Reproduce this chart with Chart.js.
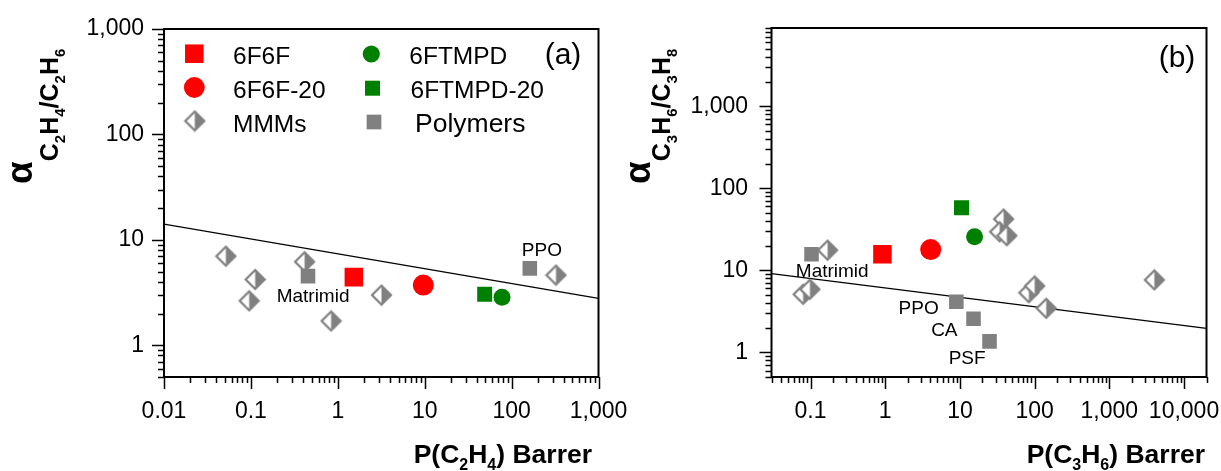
<!DOCTYPE html>
<html><head><meta charset="utf-8">
<script src="https://cdn.jsdelivr.net/npm/chart.js@4/dist/chart.umd.min.js"></script>
<style>
html,body{margin:0;padding:0;background:#fff;width:1221px;height:471px;overflow:hidden}
#wa{position:absolute;left:0;top:0;width:640px;height:471px}
#wb{position:absolute;left:605px;top:0;width:616px;height:471px}
</style></head><body>
<div id="wa"><canvas id="ca"></canvas></div>
<div id="wb"><canvas id="cb"></canvas></div>
<script>
// ---------- DATA: panel (a) C2H4/C2H6 ----------
const a6F6F_x = [1.53],  a6F6F_y = [4.43];
const a6F6F20_x = [9.63], a6F6F20_y = [3.72];
const a6FTMPD_x = [77.6], a6FTMPD_y = [2.86];
const a6FTMPD20_x = [49], a6FTMPD20_y = [3.05];
const aMMMs_x = [0.0515, 0.112, 0.0955, 0.415, 0.837, 3.18, 324];
const aMMMs_y = [7.0, 4.21, 2.64, 6.19, 1.70, 2.99, 4.63];
const aPoly_x = [0.454, 162];
const aPoly_y = [4.53, 5.36];
const aPoly_names = ['Matrimid', 'PPO'];
const aBound_x = [0.01, 1000], aBound_y = [14.1, 2.78];
const aXTickVals = [0.01, 0.1, 1, 10, 100, 1000];
const aXTickText = ['0.01', '0.1', '1', '10', '100', '1,000'];
const aYTickVals = [1, 10, 100, 1000];
const aYTickText = ['1', '10', '100', '1,000'];

// ---------- DATA: panel (b) C3H6/C3H8 ----------
const b6F6F_x = [0.917], b6F6F_y = [15.7];
const b6F6F20_x = [4.06], b6F6F20_y = [17.9];
const b6FTMPD_x = [15.7], b6FTMPD_y = [25.6];
const b6FTMPD20_x = [10.5], b6FTMPD20_y = [58];
const bMMMs_x = [0.169, 0.0796, 0.098, 38.4, 34, 42.5, 83.6, 100, 143, 4010];
const bMMMs_y = [17.6, 5.1, 5.87, 42.2, 29.5, 26.4, 5.33, 6.44, 3.44, 7.63];
const bPoly_x = [0.103, 8.95, 15.2, 24.9];
const bPoly_y = [15.7, 4.14, 2.56, 1.36];
const bPoly_names = ['Matrimid', 'PPO', 'CA', 'PSF'];
const bBound_x = [0.03, 20000], bBound_y = [9.1, 1.96];
const bXTickVals = [0.1, 1, 10, 100, 1000, 10000];
const bXTickText = ['0.1', '1', '10', '100', '1,000', '10,000'];
const bYTickVals = [1, 10, 100, 1000];
const bYTickText = ['1', '10', '100', '1,000'];

// ---------- helpers ----------
const FONTFAM = "'Liberation Sans', Arial, Helvetica, sans-serif";
const RED = '#ff0000', GREEN = '#008000', GRAY = '#808080';

function pts(xs, ys) { return xs.map((v, i) => ({ x: v, y: ys[i] })); }

function makeDiamond(size, color) {
  const c = document.createElement('canvas');
  const s = Math.ceil(size + 4);
  c.width = s; c.height = s;
  const g = c.getContext('2d');
  const m = s / 2, h = size / 2;
  const path = () => { g.beginPath(); g.moveTo(m, m - h); g.lineTo(m + h, m); g.lineTo(m, m + h); g.lineTo(m - h, m); g.closePath(); };
  path(); g.fillStyle = '#fff'; g.fill();
  g.beginPath(); g.moveTo(m, m - h); g.lineTo(m + h, m); g.lineTo(m, m + h); g.closePath();
  g.fillStyle = color; g.fill();
  path(); g.lineWidth = 2.2; g.strokeStyle = color; g.lineJoin = 'miter'; g.stroke();
  return c;
}
const DIAMOND = makeDiamond(19, GRAY);

function minorTicks(min, max, majors) {
  const out = [];
  for (let e = -3; e <= 5; e++) {
    for (let k = 1; k <= 9; k++) {
      const v = +(k * Math.pow(10, e)).toPrecision(6);
      if (v >= min * 0.9999 && v <= max * 1.0001 && majors.indexOf(v) < 0) out.push(v);
    }
  }
  return out;
}

function makeScale(min, max, vals, texts, pad, fit, isX) {
  return {
    type: 'logarithmic', min, max, position: isX ? 'bottom' : 'left',
    grid: { display: false, drawTicks: false }, border: { display: false },
    ticks: {
      autoSkip: false, maxRotation: 0, minRotation: 0, padding: pad, color: '#000',
      font: { family: FONTFAM, size: 23 },
      callback: (v) => { const i = vals.indexOf(v); return i < 0 ? '' : texts[i]; }
    },
    afterBuildTicks: (s) => { s.ticks = vals.map(v => ({ value: v })); },
    afterFit: (s) => {
      if (isX) s.height = fit; else s.width = fit;
      s.paddingTop = 0; s.paddingBottom = 0; s.paddingLeft = 0; s.paddingRight = 0;
    }
  };
}

function drawRich(ctx, segs, x, y, align) {
  let w = 0;
  segs.forEach(s => { ctx.font = 'bold ' + s.s + 'px ' + FONTFAM; s.w = ctx.measureText(s.t).width; w += s.w; });
  let cx = align === 'right' ? x - w : x;
  ctx.textAlign = 'left'; ctx.textBaseline = 'alphabetic';
  segs.forEach(s => { ctx.font = 'bold ' + s.s + 'px ' + FONTFAM; ctx.fillText(s.t, cx, y + s.dy); cx += s.w; });
}

function drawMarker(ctx, kind, color, r, x, y) {
  ctx.fillStyle = color;
  if (kind === 'rect') { const h = r * Math.SQRT1_2; ctx.fillRect(x - h, y - h, 2 * h, 2 * h); }
  else if (kind === 'circle') { ctx.beginPath(); ctx.arc(x, y, r, 0, Math.PI * 2); ctx.fill(); }
  else { ctx.drawImage(DIAMOND, x - DIAMOND.width / 2, y - DIAMOND.height / 2); }
}

const decoPlugin = {
  id: 'deco',
  afterDraw(chart, args, o) {
    const ctx = chart.ctx, a = chart.chartArea, xs = chart.scales.x, ys = chart.scales.y;
    ctx.save();
    ctx.strokeStyle = '#000';
    // tick marks
    ctx.lineWidth = 1.5;
    ctx.beginPath();
    o.xMajor.forEach(v => { const p = Math.round(xs.getPixelForValue(v)) + 0.5; ctx.moveTo(p, a.bottom); ctx.lineTo(p, a.bottom + 12); });
    o.xMinor.forEach(v => { const p = Math.round(xs.getPixelForValue(v)) + 0.5; ctx.moveTo(p, a.bottom); ctx.lineTo(p, a.bottom + 6); });
    o.yMajor.forEach(v => { const p = Math.round(ys.getPixelForValue(v)) + 0.5; ctx.moveTo(a.left, p); ctx.lineTo(a.left - 12, p); });
    o.yMinor.forEach(v => { const p = Math.round(ys.getPixelForValue(v)) + 0.5; ctx.moveTo(a.left, p); ctx.lineTo(a.left - 6, p); });
    ctx.stroke();
    // frame
    ctx.lineWidth = 2;
    ctx.strokeRect(a.left, a.top, a.right - a.left, a.bottom - a.top);
    // point annotations
    ctx.fillStyle = '#000'; ctx.textAlign = 'center'; ctx.textBaseline = 'alphabetic';
    ctx.font = '19px ' + FONTFAM;
    o.notes.forEach(n => ctx.fillText(n.t, xs.getPixelForValue(n.x), ys.getPixelForValue(n.y)));
    // panel tag
    ctx.font = '30px ' + FONTFAM;
    ctx.fillText(o.tag, a.right + o.tagDx, a.top + o.tagDy);
    // axis titles
    ctx.fillStyle = '#000';
    drawRich(ctx, o.xTitle, o.xTitleRight, 462.5, 'right');
    ctx.save();
    ctx.translate(o.yTitleX, o.yTitleY);
    ctx.rotate(-Math.PI / 2);
    drawRich(ctx, o.yTitle, 0, 0, 'left');
    ctx.restore();
    // legend
    if (o.legend) {
      o.legend.forEach(L => {
        drawMarker(ctx, L.kind, L.color, L.r, L.mx, L.my);
        ctx.fillStyle = '#000'; ctx.textAlign = 'left'; ctx.textBaseline = 'alphabetic';
        ctx.font = L.fs + 'px ' + FONTFAM;
        ctx.fillText(L.t, L.tx, L.ty);
      });
    }
    ctx.restore();
  }
};

function buildDatasets(d) {
  return [
    { label: '6F6F', data: pts(d.f6x, d.f6y), pointStyle: 'rect', pointRadius: 13.1, backgroundColor: RED, borderWidth: 0, order: 1 },
    { label: '6F6F-20', data: pts(d.f620x, d.f620y), pointStyle: 'circle', pointRadius: 10.5, backgroundColor: RED, borderWidth: 0, order: 2 },
    { label: '6FTMPD', data: pts(d.tx, d.ty), pointStyle: 'circle', pointRadius: 8.5, backgroundColor: GREEN, borderWidth: 0, order: 3 },
    { label: '6FTMPD-20', data: pts(d.t20x, d.t20y), pointStyle: 'rect', pointRadius: 10.6, backgroundColor: GREEN, borderWidth: 0, order: 4 },
    { label: 'Polymers', data: pts(d.px, d.py), pointStyle: 'rect', pointRadius: 10.3, backgroundColor: GRAY, borderWidth: 0, order: 5 },
    { label: 'MMMs', data: pts(d.mx, d.my), pointStyle: DIAMOND, pointRadius: 10, backgroundColor: GRAY, borderWidth: 0, order: 6 },
    { label: 'bound', data: pts(d.bx, d.by), showLine: true, borderColor: '#000', borderWidth: 1.3, pointRadius: 0, fill: false, order: 10 }
  ];
}

const sub = (t) => ({ t, s: 16, dy: 7.5 });
const big = (t) => ({ t, s: 26.5, dy: 0 });

// ---------- Chart (a) ----------
new Chart(document.getElementById('ca'), {
  type: 'scatter',
  data: { datasets: buildDatasets({ f6x: a6F6F_x, f6y: a6F6F_y, f620x: a6F6F20_x, f620y: a6F6F20_y, tx: a6FTMPD_x, ty: a6FTMPD_y, t20x: a6FTMPD20_x, t20y: a6FTMPD20_y, px: aPoly_x, py: aPoly_y, mx: aMMMs_x, my: aMMMs_y, bx: aBound_x, by: aBound_y }) },
  options: {
    responsive: true, maintainAspectRatio: false, animation: false, events: [],
    layout: { padding: { left: 0, right: 41.5, top: 29, bottom: 0 } },
    scales: {
      x: makeScale(0.01, 1000, aXTickVals, aXTickText, 21, 94, true),
      y: makeScale(0.5, 1000, aYTickVals, aYTickText, 20, 164, false)
    },
    plugins: {
      legend: { display: false }, tooltip: { enabled: false },
      deco: {
        xMajor: aXTickVals, xMinor: minorTicks(0.01, 1000, aXTickVals),
        yMajor: aYTickVals, yMinor: minorTicks(0.5, 1000, aYTickVals),
        notes: [{ t: aPoly_names[0], x: 0.519, y: 2.55 }, { t: aPoly_names[1], x: 223, y: 7.01 }],
        tag: '(a)', tagDx: -35.5, tagDy: 35,
        xTitle: [big('P(C'), sub('2'), big('H'), sub('4'), big(') Barrer')], xTitleRight: 592,
        yTitle: [{ t: 'α', s: 37, dy: 0 }, { t: 'C', s: 25, dy: 26 }, { t: '2', s: 15, dy: 33 }, { t: 'H', s: 25, dy: 26 }, { t: '4', s: 15, dy: 33 },
                 { t: '/C', s: 25, dy: 26 }, { t: '2', s: 15, dy: 33 }, { t: 'H', s: 25, dy: 26 }, { t: '6', s: 15, dy: 33 }],
        yTitleX: 32, yTitleY: 184,
        legend: [
          { kind: 'rect', color: RED, r: 13.1, mx: 194.3, my: 53.7, t: '6F6F', tx: 233, ty: 64, fs: 24.5 },
          { kind: 'circle', color: RED, r: 10.4, mx: 194.3, my: 87.5, t: '6F6F-20', tx: 233, ty: 98, fs: 24.5 },
          { kind: 'diamond', color: GRAY, r: 10, mx: 194.8, my: 121, t: 'MMMs', tx: 233, ty: 131.7, fs: 24.5 },
          { kind: 'circle', color: GREEN, r: 8.6, mx: 371.3, my: 54, t: '6FTMPD', tx: 409.3, ty: 64, fs: 24.5 },
          { kind: 'rect', color: GREEN, r: 10.6, mx: 372.5, my: 88.2, t: '6FTMPD-20', tx: 410.5, ty: 98, fs: 24.5 },
          { kind: 'rect', color: GRAY, r: 10.4, mx: 374, my: 122, t: 'Polymers', tx: 415, ty: 132, fs: 26.5 }
        ]
      }
    }
  },
  plugins: [decoPlugin]
});

// ---------- Chart (b) ----------
new Chart(document.getElementById('cb'), {
  type: 'scatter',
  data: { datasets: buildDatasets({ f6x: b6F6F_x, f6y: b6F6F_y, f620x: b6F6F20_x, f620y: b6F6F20_y, tx: b6FTMPD_x, ty: b6FTMPD_y, t20x: b6FTMPD20_x, t20y: b6FTMPD20_y, px: bPoly_x, py: bPoly_y, mx: bMMMs_x, my: bMMMs_y, bx: bBound_x, by: bBound_y }) },
  options: {
    responsive: true, maintainAspectRatio: false, animation: false, events: [],
    layout: { padding: { left: 0, right: 14.5, top: 28, bottom: 0 } },
    scales: {
      x: makeScale(0.03, 20000, bXTickVals, bXTickText, 21, 94, true),
      y: makeScale(0.5, 9000, bYTickVals, bYTickText, 23.5, 166.5, false)
    },
    plugins: {
      legend: { display: false }, tooltip: { enabled: false },
      deco: {
        xMajor: bXTickVals, xMinor: minorTicks(0.03, 20000, bXTickVals),
        yMajor: bYTickVals, yMinor: minorTicks(0.5, 9000, bYTickVals),
        notes: [{ t: bPoly_names[0], x: 0.195, y: 8.3 }, { t: bPoly_names[1], x: 2.8, y: 2.9 },
                { t: bPoly_names[2], x: 6.18, y: 1.57 }, { t: bPoly_names[3], x: 12.5, y: 0.72 }],
        tag: '(b)', tagDx: -29.5, tagDy: 39,
        xTitle: [big('P(C'), sub('3'), big('H'), sub('6'), big(') Barrer')], xTitleRight: 600,
        yTitle: [{ t: 'α', s: 37, dy: 0 }, { t: 'C', s: 25, dy: 20 }, { t: '3', s: 15, dy: 27 }, { t: 'H', s: 25, dy: 20 }, { t: '6', s: 15, dy: 27 },
                 { t: '/C', s: 25, dy: 20 }, { t: '3', s: 15, dy: 27 }, { t: 'H', s: 25, dy: 20 }, { t: '8', s: 15, dy: 27 }],
        yTitleX: 45, yTitleY: 184
      }
    }
  },
  plugins: [decoPlugin]
});
</script>
</body></html>
